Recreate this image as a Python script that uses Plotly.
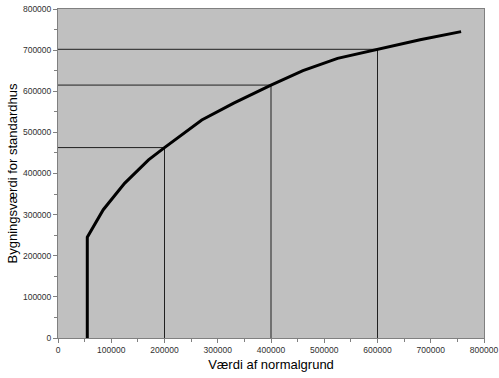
import plotly.graph_objects as go

# Curve
land_value = [55000, 55000, 85000, 125000, 170000, 200000, 270000, 330000,
              400000, 460000, 525000, 600000, 680000, 757000]
building_value = [0, 245000, 312000, 376000, 433000, 463000, 530000, 571000,
                  615000, 650000, 680000, 702000, 725000, 745000]

# Guide points
guide_x = [200000, 400000, 600000]
guide_y = [463000, 615000, 702000]

x_ticks = [0, 100000, 200000, 300000, 400000, 500000, 600000, 700000, 800000]
y_ticks = [0, 100000, 200000, 300000, 400000, 500000, 600000, 700000, 800000]

fig = go.Figure()

for gx, gy in zip(guide_x, guide_y):
    fig.add_trace(go.Scatter(x=[0, gx, gx], y=[gy, gy, 0], mode="lines",
                             line=dict(color="#202020", width=1),
                             hoverinfo="skip", showlegend=False))

fig.add_trace(go.Scatter(x=land_value, y=building_value, mode="lines",
                         line=dict(color="black", width=3),
                         showlegend=False))

axis_common = dict(
    showgrid=False, zeroline=False, showline=True, linecolor="#808080",
    linewidth=1, mirror=True, ticks="outside", ticklen=4, tickcolor="#808080",
    automargin=False, ticklabeloverflow="allow",
    tickfont=dict(family="Arial, Liberation Sans", size=8.5, color="#303030"),
    minor=dict(ticks="outside", ticklen=3, tickcolor="#808080", dtick=50000),
)

fig.update_xaxes(range=[0, 800000], tickvals=x_ticks,
                 ticktext=[str(v) for v in x_ticks],
                 title=dict(text="Værdi af normalgrund", standoff=5,
                            font=dict(family="Arial, Liberation Sans", size=13, color="black")),
                 **axis_common)
fig.update_yaxes(range=[0, 800000], tickvals=y_ticks,
                 ticktext=[str(v) for v in y_ticks],
                 title=dict(text="Bygningsværdi for standardhus", standoff=2,
                            font=dict(family="Arial, Liberation Sans", size=13, color="black")),
                 **axis_common)

fig.update_layout(
    width=499, height=378,
    margin=dict(l=58, r=15, t=9, b=40),
    plot_bgcolor="#c0c0c0", paper_bgcolor="white",
    showlegend=False,
)

fig.write_html("out.html", config={"displayModeBar": False},
               post_script="document.body.style.margin='0';")
